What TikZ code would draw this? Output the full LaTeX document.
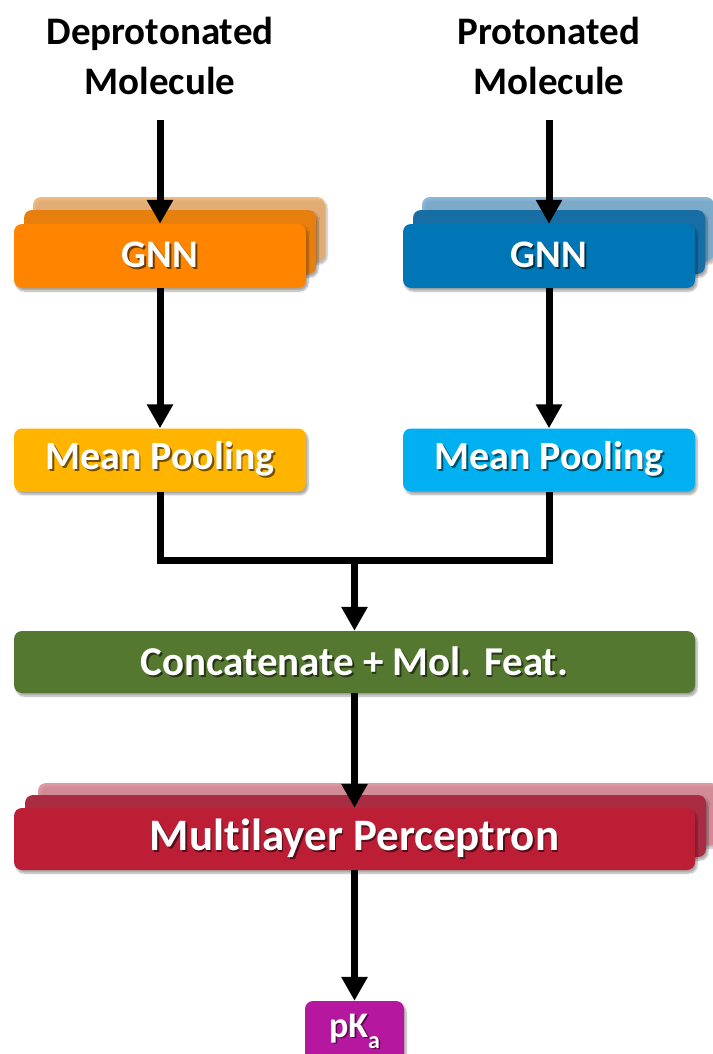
\documentclass[tikz,border=0pt]{standalone}
\usepackage{fontspec}
\setmainfont{Carlito}[Ligatures={NoCommon,NoContextual}]
\usetikzlibrary{arrows.meta,shadows.blur}

\definecolor{gnnA}{RGB}{255,133,0}
\definecolor{gnnAmid}{RGB}{231,127,14}
\definecolor{gnnAback}{RGB}{236,170,100}
\definecolor{gnnB}{RGB}{0,118,182}
\definecolor{gnnBmid}{RGB}{22,110,164}
\definecolor{gnnBback}{RGB}{110,166,206}
\definecolor{poolA}{RGB}{255,181,0}
\definecolor{poolB}{RGB}{0,176,240}
\definecolor{catG}{RGB}{84,120,47}
\definecolor{mlpR}{RGB}{188,30,54}
\definecolor{mlpRmid}{RGB}{170,44,66}
\definecolor{mlpRback}{RGB}{214,128,142}
\definecolor{outM}{RGB}{181,23,158}

% white label with a soft dark drop shadow
\newcommand\shtxt[2]{\rlap{\kern1.6pt\raisebox{-1.6pt}{\textcolor{#1}{#2}}}\textcolor{white}{#2}}

\tikzset{
  x=1pt, y=-1pt,
  card/.style={rounded corners=8pt, inner sep=0pt, draw=none,
    blur shadow={shadow xshift=2pt, shadow yshift=-3pt,
                 shadow blur steps=6, shadow opacity=35}},
  gnnbox/.style={card, minimum width=292pt, minimum height=64pt,
    font=\bfseries\fontsize{39}{41}\selectfont},
  poolbox/.style={card, minimum width=292pt, minimum height=63pt,
    font=\bfseries\fontsize{40}{42}\selectfont},
  widebox/.style={card, minimum width=681pt, minimum height=62pt,
    font=\bfseries\fontsize{41}{43}\selectfont},
  title/.style={align=center, font=\bfseries\fontsize{39}{50}\selectfont},
  flow/.style={line width=7pt, -{Triangle[width=25pt,length=24pt]}},
  wire/.style={line width=7pt, line join=miter},
}

\begin{document}
\begin{tikzpicture}
\useasboundingbox (0,0) rectangle (712,1054);

% inputs
\node[title] (dep) at (160,56) {Deprotonated\\Molecule};
\node[title] (pro) at (549,56) {Protonated\\Molecule};

% stacked GNN blocks, deprotonated branch
\node[gnnbox, fill=gnnAback, opacity=.8] (gA3) at (179,229) {};
\node[gnnbox, fill=gnnAmid] (gA2) at (170,242) {};
\node[gnnbox, fill=gnnA] (gA) at (160,256) {\shtxt{gnnA!45!black}{GNN}};

% stacked GNN blocks, protonated branch
\node[gnnbox, fill=gnnBback, opacity=.8] (gB3) at (568,229) {};
\node[gnnbox, fill=gnnBmid] (gB2) at (559,242) {};
\node[gnnbox, fill=gnnB] (gB) at (549,256) {\shtxt{gnnB!45!black}{GNN}};

% pooling
\node[poolbox, fill=poolA] (pA) at (160,460) {\shtxt{poolA!45!black}{Mean Pooling}};
\node[poolbox, fill=poolB] (pB) at (549,460) {\shtxt{poolB!45!black}{Mean Pooling}};

% concatenation
\node[widebox, fill=catG] (cat) at (354.5,662) {\shtxt{catG!45!black}{Concatenate + Mol. Feat.}};

% stacked MLP
\node[widebox, fill=mlpRback, opacity=.8] (m3) at (378.5,814) {};
\node[widebox, fill=mlpRmid] (m2) at (365.5,826) {};
\node[widebox, fill=mlpR, font=\bfseries\fontsize{45}{47}\selectfont] (mlp) at (354.5,839)
  {\shtxt{mlpR!45!black}{Mult\kern0pt ilayer Perceptron}};

% output
\node[card, fill=outM, minimum width=99pt, minimum height=62pt,
      font=\bfseries\fontsize{36}{38}\selectfont] (pka) at (354.5,1032)
  {\shtxt{outM!45!black}{pK\raisebox{-0.3em}{\fontsize{24}{26}\selectfont a}}};

% connectors
\coordinate (join) at (354.5,560);
\draw[flow, shorten <=22pt] (dep.south) -- (gA.north);
\draw[flow, shorten <=22pt] (pro.south) -- (gB.north);
\draw[flow] (gA.south) -- (pA.north);
\draw[flow] (gB.south) -- (pB.north);
\draw[wire] (pA.south) |- (join) -| (pB.south);
\draw[flow] (join) -- (cat.north);
\draw[flow] (cat.south) -- (mlp.north);
\draw[flow] (mlp.south) -- (pka.north);
\end{tikzpicture}
\end{document}
